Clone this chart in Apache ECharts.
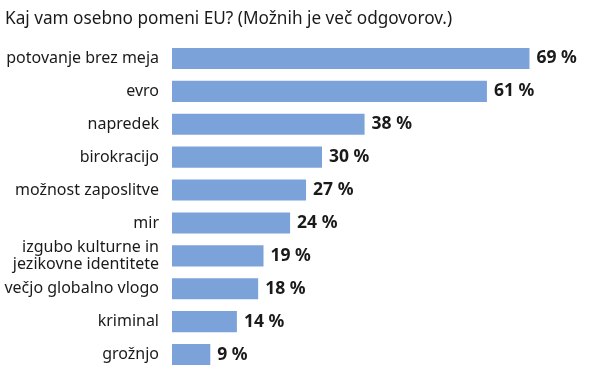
<!DOCTYPE html>
<html><head><meta charset="utf-8">
<script src="https://cdn.jsdelivr.net/npm/echarts@6/dist/echarts.min.js"></script>
<style>html,body{margin:0;padding:0;background:#fff}#c{width:600px;height:376px}</style>
</head><body><div id="c"></div>
<script>
const title = 'Kaj vam osebno pomeni EU? (Možnih je več odgovorov.)';
const categories = ['potovanje brez meja','evro','napredek','birokracijo','možnost zaposlitve','mir','izgubo kulturne in\njezikovne identitete','večjo globalno vlogo','kriminal','grožnjo'];
const values = [69,61,38,30,27,24,19,18,14,9];

const chart = echarts.init(document.getElementById('c'));
chart.setOption({
  animation:false,
  title:{text:title,left:0,top:6,textStyle:{fontFamily:'Noto Sans',fontSize:17.2,fontWeight:'normal',color:'#1a1a1a'}},
  grid:{left:172,right:12,top:42,bottom:5},
  xAxis:{type:'value',min:1.8,max:80,show:false},
  yAxis:{type:'category',data:categories,inverse:true,
    axisLine:{show:false},axisTick:{show:false},
    axisLabel:{margin:13,fontFamily:'Noto Sans',fontSize:16,color:'#1a1a1a',lineHeight:17,align:'right'}},
  series:[{type:'bar',data:values,barCategoryGap:'36%',clip:true,
    itemStyle:{color:'#7ba3d9'},
    label:{show:true,position:'right',distance:7,formatter:p=>p.value+' %',
      fontFamily:'Noto Sans',fontSize:17.5,fontWeight:'bold',color:'#1a1a1a'}}]
});
</script></body></html>
